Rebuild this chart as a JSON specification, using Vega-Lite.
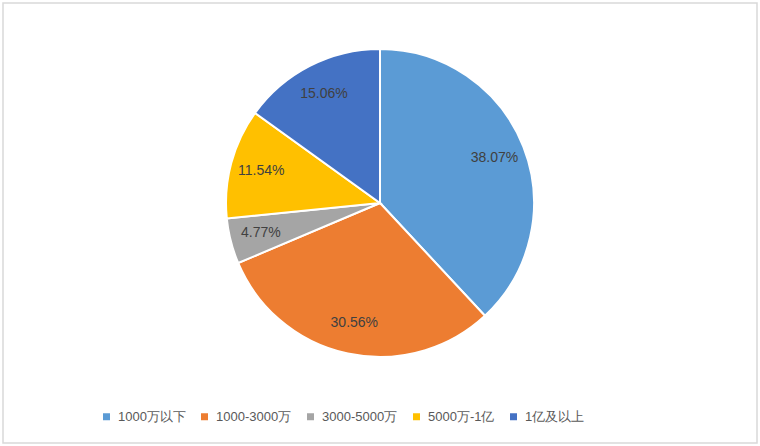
{
  "$schema": "https://vega.github.io/schema/vega-lite/v6.json",
  "autosize": {"type": "none"},
  "padding": {"left": 3, "top": 3, "right": 3, "bottom": 3},
  "width": 754,
  "height": 440,
  "background": "white",
  "view": {"stroke": "#D9D9D9", "strokeWidth": 1.5},
  "config": {
    "font": "Liberation Sans"
  },
  "data": {
    "values": [
      {"category": "1000万以下", "share": 0.3807, "order": 1},
      {"category": "1000-3000万", "share": 0.3056, "order": 2},
      {"category": "3000-5000万", "share": 0.0477, "order": 3},
      {"category": "5000万-1亿", "share": 0.1154, "order": 4},
      {"category": "1亿及以上", "share": 0.1506, "order": 5}
    ]
  },
  "encoding": {
    "theta": {"field": "share", "type": "quantitative", "stack": true},
    "order": {"field": "order", "type": "quantitative"},
    "color": {
      "field": "category",
      "type": "nominal",
      "scale": {
        "domain": ["1000万以下", "1000-3000万", "3000-5000万", "5000万-1亿", "1亿及以上"],
        "range": ["#5B9BD5", "#ED7D31", "#A5A5A5", "#FFC000", "#4472C4"]
      },
      "legend": {
        "title": null,
        "orient": "none",
        "direction": "horizontal",
        "legendX": 97,
        "legendY": 407,
        "symbolType": "square",
        "symbolSize": 49,
        "symbolStrokeWidth": 0,
        "labelFontSize": 13,
        "labelColor": "#595959",
        "labelFont": "Liberation Sans",
        "labelOffset": 5,
        "columnPadding": 12
      }
    }
  },
  "layer": [
    {
      "mark": {"type": "arc", "outerRadius": 154, "stroke": "white", "strokeWidth": 2, "yOffset": -20}
    },
    {
      "mark": {"type": "text", "radius": 123, "fontSize": 14, "fill": "#404040", "yOffset": -20, "align": "center", "baseline": "middle"},
      "encoding": {
        "text": {"field": "share", "type": "quantitative", "format": ".2%"},
        "color": {"value": "#404040"}
      }
    }
  ]
}
